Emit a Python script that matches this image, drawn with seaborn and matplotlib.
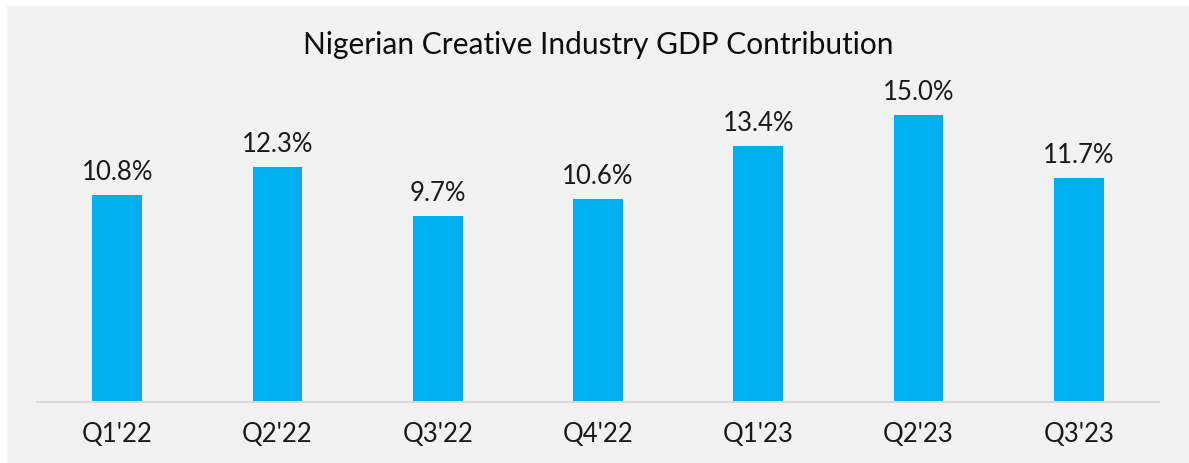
import matplotlib
matplotlib.use("Agg")
import matplotlib.pyplot as plt
import seaborn as sns
import pandas as pd
from matplotlib.patches import Rectangle

quarters = ["Q1'22", "Q2'22", "Q3'22", "Q4'22", "Q1'23", "Q2'23", "Q3'23"]
gdp_share = [10.8, 12.3, 9.7, 10.6, 13.4, 15.0, 11.7]
labels = ["10.8%", "12.3%", "9.7%", "10.6%", "13.4%", "15.0%", "11.7%"]

sns.set_theme(style="white")
plt.rcParams['font.family'] = ['Lato', 'DejaVu Sans']

W, H = 1189, 464
fig = plt.figure(figsize=(W / 100, H / 100), dpi=100, facecolor="white")
fig.patches.append(Rectangle((7 / W, 0), 1 - 7 / W, (H - 7) / H, transform=fig.transFigure,
                             facecolor="#f2f2f2", edgecolor="none", zorder=-10))

ax = fig.add_axes([37 / W, (H - 403) / H, 1122 / W, 343 / H])
ax.set_facecolor("none")

df = pd.DataFrame({"quarter": quarters, "share": gdp_share})
sns.barplot(data=df, x="quarter", y="share", color="#00b0f0", saturation=1,
            width=0.31, linewidth=0, ax=ax)
ax.set_xlim(-0.5, len(quarters) - 0.5)
ax.set_ylim(0, 17.93)

for i, (v, lab) in enumerate(zip(gdp_share, labels)):
    ax.annotate(lab, (i, v), xytext=(0, 8), textcoords="offset points",
                ha="center", va="bottom", fontsize=18.5, color="#1a1a1a")

for s in ["top", "right", "left"]:
    ax.spines[s].set_visible(False)
ax.spines["bottom"].set_color("#d9d9d9")
ax.spines["bottom"].set_linewidth(1.5)
ax.set_yticks([])
ax.set_xlabel("")
ax.set_ylabel("")
ax.tick_params(axis="x", length=0, labelsize=18.5, labelcolor="#1a1a1a", pad=14)

fig.text(598 / W, 1 - 45 / H, "Nigerian Creative Industry GDP Contribution",
         ha="center", va="center", fontsize=21.5, color="#0d0d0d")

fig.savefig("out.png", dpi=100, facecolor="white")
